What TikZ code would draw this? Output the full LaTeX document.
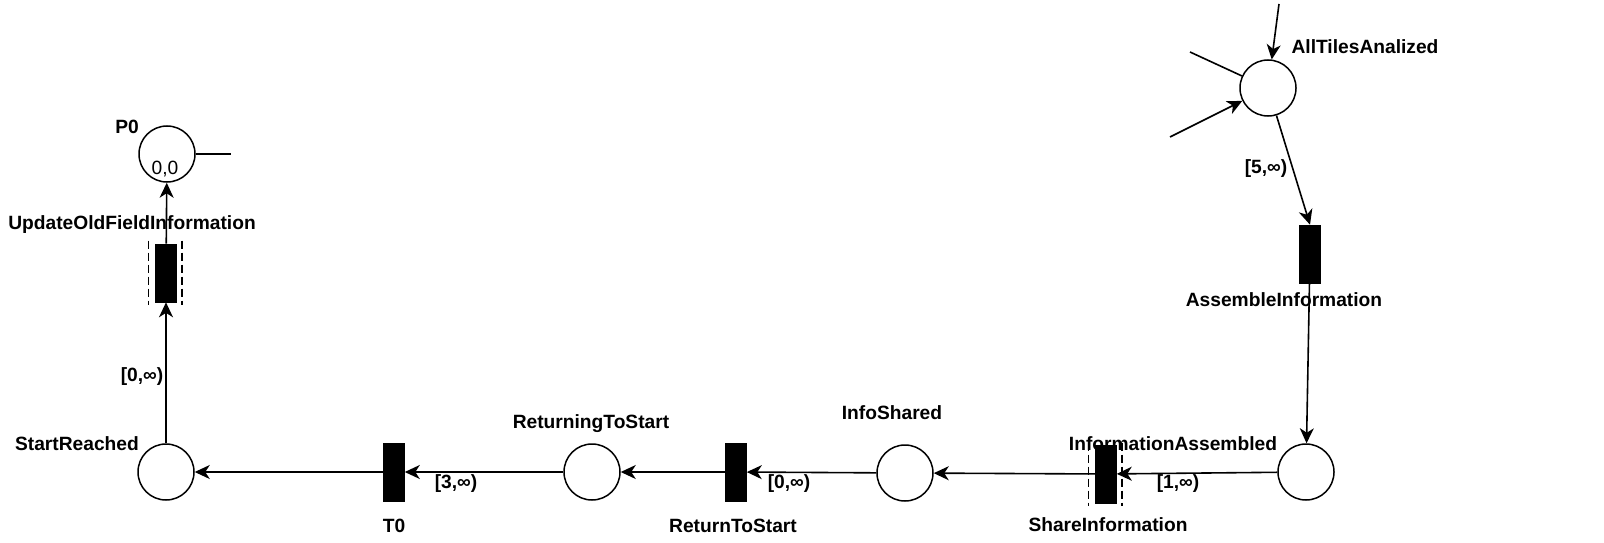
\documentclass[tikz,border=0pt]{standalone}
\usepackage{fontspec}
\setmainfont{Liberation Sans}
\usetikzlibrary{arrows.meta}
\usetikzlibrary{calc}

\begin{document}
\begin{tikzpicture}[x=1pt,y=-1pt,
  place/.style={circle, draw, fill=white, line width=1.5pt, minimum size=56pt, inner sep=0pt},
  trans/.style={rectangle, fill=black, draw=black, line width=0.6pt, minimum width=21pt, minimum height=58pt, inner sep=0pt},
  lbl/.style={font=\fontsize{19.2}{23}\selectfont\bfseries, inner sep=0pt, text height=13.7pt, text depth=0pt},
  val/.style={font=\fontsize{19.2}{23}\selectfont, inner sep=0pt, text height=13.7pt, text depth=0pt},
  sidebar/.style={dashed, dash pattern=on 8pt off 4pt, line width=1.4pt},
  >={Stealth[length=15pt,width=14pt,inset=4.5pt]}, line width=1.6pt]
\useasboundingbox (0,0) rectangle (1604,543);
% labels first, the transitions lie over them
\node[lbl] (lP0) at (127,127) {P0};
\node[lbl] (lUpdate) at (132,223) {UpdateOldFieldInformation};
\node[lbl] (lStart) at (77,444) {StartReached};
\node[lbl] (lT0) at (394,526) {T0};
\node[lbl] (lReturning) at (591,422) {ReturningToStart};
\node[lbl] (lReturnTo) at (733,526) {ReturnToStart};
\node[lbl] (lInfoShared) at (892,413) {InfoShared};
\node[lbl] (lAssembled) at (1173,444) {InformationAssembled};
\node[lbl] (lShare) at (1108,525) {ShareInformation};
\node[lbl] (lAssemble) at (1284,300) {AssembleInformation};
\node[lbl] (lAllTiles) at (1365,47) {AllTilesAnalized};
\node[lbl] (w1) at (142,375) {[0,∞)};
\node[lbl] (w2) at (456,482) {[3,∞)};
\node[lbl] (w3) at (789,482) {[0,∞)};
\node[lbl] (w4) at (1178,482) {[1,∞)};
\node[lbl] (w5) at (1266,167) {[5,∞)};
% places
\node[place] (p0) at (167,154) {};
\node[val] (tok) at (165,168) {0,0};
\node[place] (allTiles) at (1268,88) {};
\node[place] (startReached) at (166,472) {};
\node[place] (returning) at (592,472) {};
\node[place] (infoShared) at (905,473) {};
\node[place] (infoAssembled) at (1306,472) {};
% transitions
\node[trans] (updateOld) at (166,273) {};
\node[trans] (assemble) at (1310,254) {};
\node[trans] (t0) at (394,472) {};
\node[trans] (returnTo) at (736,472) {};
\node[trans] (share) at (1106,474) {};
\draw[sidebar] ($(updateOld.north west)+(-7,-3)$) -- ($(updateOld.south west)+(-7,3)$);
\draw[sidebar] ($(updateOld.north east)+(5,-3)$) -- ($(updateOld.south east)+(5,3)$);
\draw[sidebar] ($(share.north west)+(-7,-2)$) -- ($(share.south west)+(-7,3)$);
\draw[sidebar] ($(share.north east)+(5,-2)$) -- ($(share.south east)+(5,3)$);
% loose ends
\coordinate (inTop) at (1279,4);
\coordinate (inLine) at (1190,52);
\coordinate (inArr) at (1170,137);
\coordinate (p0out) at (231,154);
\draw[->] (inTop) -- (allTiles);
\draw (inLine) -- (allTiles);
\draw[->] (inArr) -- (allTiles);
\draw (p0) -- (p0out);
% arcs
\draw[->] (allTiles) -- (assemble.north);
\draw[->] (assemble) -- (infoAssembled);
\draw[->] (infoAssembled) -- (share);
\draw[->] (share) -- (infoShared);
\draw[->] (infoShared) -- (returnTo);
\draw[->] (returnTo) -- (returning);
\draw[->] (returning) -- (t0);
\draw[->] (t0) -- (startReached);
\draw[->] (startReached) -- (updateOld);
\draw[->] (updateOld) -- (p0);
\end{tikzpicture}
\end{document}
